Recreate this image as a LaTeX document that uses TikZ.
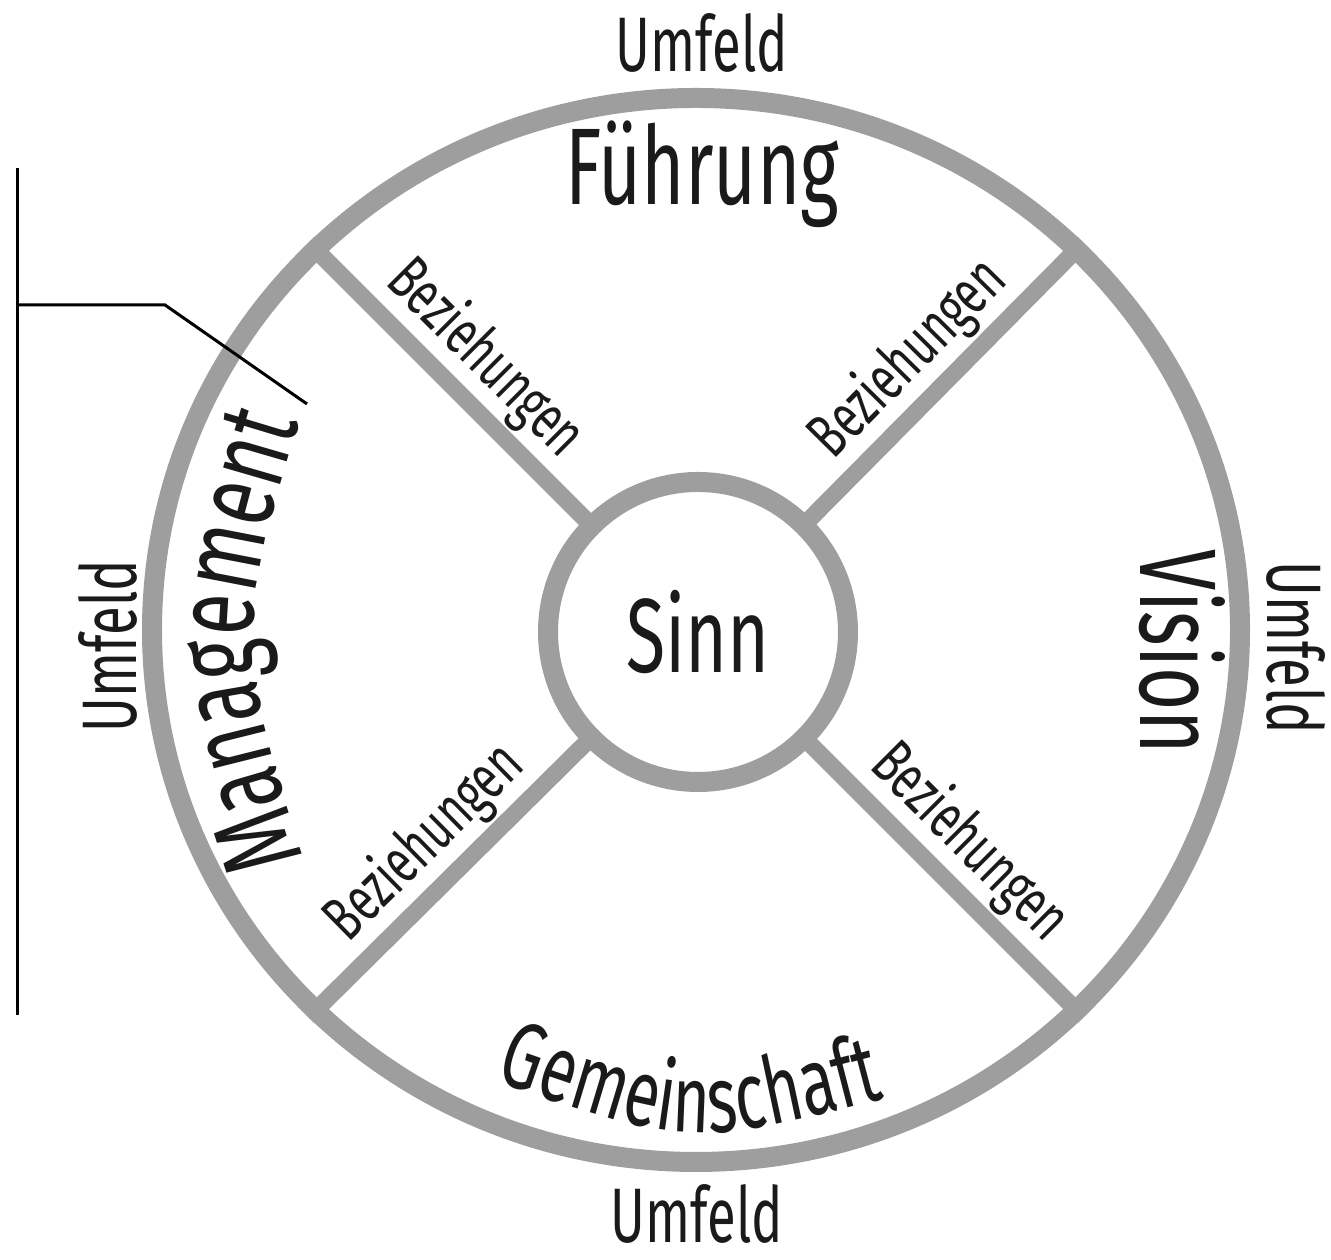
\documentclass[tikz,border=0pt]{standalone}
\usepackage{fontspec}
\usepackage{tikz}
\usetikzlibrary{shapes.geometric,decorations.text}
\newfontfamily\handfont[FakeStretch=0.68]{Fira Sans}
\definecolor{ringgray}{HTML}{9E9E9E}
\definecolor{ink}{HTML}{1A1A1A}
\newcommand\gemfont{\handfont\fontsize{27}{30}\selectfont}
\newcommand\mgmtfont{\handfont\fontsize{32}{34}\selectfont}
\tikzset{
  ringline/.style={draw=ringgray,line width=2.0mm,inner sep=0pt},
  spoke/.style={draw=ringgray,line width=1.7mm},
  bracket/.style={draw=black,line width=0.3mm},
  umfeld/.style={font=\handfont\fontsize{22}{24}\selectfont,text=ink,inner sep=0pt,anchor=base},
  sector/.style={font=\handfont\fontsize{31}{34}\selectfont,text=ink,inner sep=0pt,anchor=base},
  bez/.style={font=\handfont\fontsize{18}{20}\selectfont,text=ink,sloped,above,inner sep=3pt}
}

\begin{document}
\begin{tikzpicture}[x=1mm,y=1mm]
  \useasboundingbox (0,0) rectangle (133.1,126);

  % outer ring and centre
  \node[ringline,ellipse,minimum width=108.8mm,minimum height=106.4mm] (ring) at (69.6,63.0) {};

  % spokes
  \draw[spoke] (69.8,62.8) -- (ring.135);
  \draw[spoke] (69.8,62.8) -- (ring.45);
  \draw[spoke] (69.8,62.8) -- (ring.225);
  \draw[spoke] (69.8,62.8) -- (ring.315);
  \node[ringline,circle,fill=white,minimum size=30mm,
        font=\handfont\fontsize{30}{32}\selectfont,text=ink] (sinn) at (69.8,62.8) {Sinn};

  % labels on the spokes
  \path (sinn.135) -- node[bez,pos=0.47] (bezNW) {Beziehungen} (ring.135);
  \path (sinn.45)  -- node[bez,pos=0.47] (bezNE) {Beziehungen} (ring.45);
  \path (sinn.225) -- node[bez,pos=0.47] (bezSW) {Beziehungen} (ring.225);
  \path (sinn.315) -- node[bez,pos=0.47] (bezSE) {Beziehungen} (ring.315);

  % sectors
  \node[sector] (fuehrung) at (70.2,105.5) {Führung};
  \node[sector,rotate=-90] (vision) at (114.0,60.8) {Vision};
  \path[decorate,decoration={text along path,text align=center,text color=ink,
        text={|\gemfont|Gemeinschaft}}] (46.5,19.0) .. controls (69,11.0) .. (91.5,17.0);
  \path[decorate,decoration={text along path,text align=center,text color=ink,
        text={|\mgmtfont|Management}}] (32,35) .. controls (23.2,62) .. (31.5,89);

  % Umfeld all round
  \node[umfeld] (umN) at (70.2,118.8) {Umfeld};
  \node[umfeld] (umS) at (69.7,1.7) {Umfeld};
  \node[umfeld,rotate=90] (umW) at (13.7,61.4) {Umfeld};
  \node[umfeld,rotate=-90] (umE) at (126.7,61.2) {Umfeld};

  % bracket on the left
  \coordinate (brtop) at (1.7,109.2);
  \coordinate (brbot) at (1.7,24.5);
  \coordinate (brjoin) at (1.7,95.5);
  \coordinate (brknee) at (16.5,95.5);
  \coordinate (brtip) at (30.7,85.6);
  \draw[bracket] (brtop) -- (brbot);
  \draw[bracket] (brjoin) -- (brknee) -- (brtip);
\end{tikzpicture}
\end{document}
